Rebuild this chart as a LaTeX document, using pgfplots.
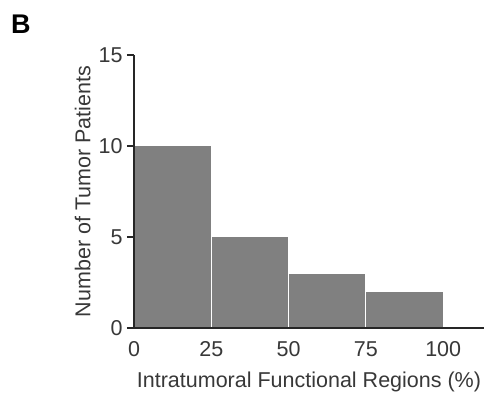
\documentclass[border=0pt]{standalone}
\usepackage{pgfplots}
\pgfplotsset{compat=1.18}
\usepackage{fontspec}
\setmainfont{Liberation Sans}
\definecolor{bargray}{HTML}{808080}
\definecolor{txt}{HTML}{383838}
\begin{document}
\begin{tikzpicture}[x=1pt,y=1pt]
\begin{axis}[
  at={(0,0)}, anchor=south west,
  scale only axis, width=350pt, height=273pt,
  xmin=0, xmax=113.2, ymin=0, ymax=15,
  axis x line=bottom, axis y line=left,
  axis line style={-, line width=1.4pt, color=black!85},
  axis on top,
  xtick={0,25,50,75,100}, ytick={0,5,10,15},
  x tick style={draw=none}, 
  y tick style={line width=1.4pt, color=black!85},
  tick align=outside, major tick length=7pt,
  /pgf/number format/assume math mode=true,
  ticklabel style={font=\fontsize{21.5}{25}\selectfont, text=txt},
  xticklabel style={yshift=-3pt},
  yticklabel style={xshift=-1pt},
  xlabel={Intratumoral Functional Regions (\%)},
  ylabel={Number of Tumor Patients},
  label style={font=\fontsize{21.5}{25}\selectfont, text=txt},
  xlabel style={yshift=-8pt},
  ylabel style={yshift=1pt},
]
\addplot[ybar interval, fill=bargray, draw=white, line width=1pt] coordinates {(0,10) (25,5) (50,3) (75,2) (100,0)};
\end{axis}
\node[font=\bfseries\fontsize{27}{30}\selectfont, anchor=center] at (-113,304) {B};
\path[use as bounding box] (-134,-70) rectangle (353,328);
\end{tikzpicture}
\end{document}
